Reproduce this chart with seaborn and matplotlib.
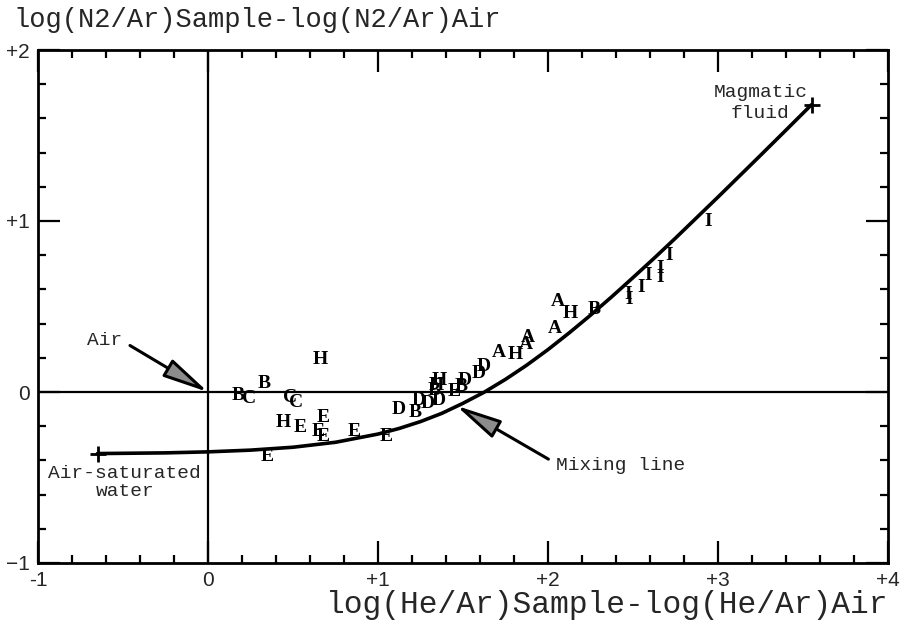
import matplotlib
matplotlib.use("Agg")
import matplotlib.pyplot as plt
from matplotlib.ticker import MultipleLocator, FixedLocator
import pandas as pd
import seaborn as sns

# mixing line between air-saturated water and magmatic fluid
mix_x = [-0.65, -0.25, 0.0, 0.25, 0.5, 0.75, 1.0, 1.125, 1.25, 1.375, 1.5, 1.625, 1.75, 1.875,
         2.0, 2.125, 2.25, 2.375, 2.5, 2.625, 2.75, 2.875, 3.0, 3.125, 3.25, 3.375, 3.55]
mix_y = [-0.36, -0.356, -0.35, -0.34, -0.323, -0.294, -0.246, -0.213, -0.173, -0.125, -0.066,
         -0.001, 0.074, 0.157, 0.248, 0.346, 0.449, 0.557, 0.669, 0.783, 0.90, 1.02, 1.14,
         1.262, 1.384, 1.507, 1.68]

end_x = [-0.65, 3.55]
end_y = [-0.36, 1.68]

# sample points, labelled by letter
pt_label = ["A", "A", "A", "A", "A",
            "H", "H", "H", "H", "H", "H",
            "B", "B", "B", "B", "B", "B",
            "C", "C", "C",
            "D", "D", "D", "D", "D", "D", "D",
            "E", "E", "E", "E", "E", "E", "E", "E",
            "I", "I", "I", "I", "I", "I", "I", "I"]
pt_x = [2.06, 2.04, 1.88, 1.87, 1.71,
        2.13, 1.81, 0.66, 0.44, 1.36, 1.34,
        2.27, 0.33, 0.18, 1.33, 1.22, 1.49,
        0.24, 0.48, 0.52,
        1.62, 1.59, 1.51, 1.24, 1.29, 1.36, 1.12,
        1.45, 0.54, 0.68, 0.65, 0.68, 0.86, 1.05, 0.35,
        2.47, 2.48, 2.55, 2.59, 2.66, 2.66, 2.71, 2.94]
pt_y = [0.53, 0.37, 0.32, 0.28, 0.23,
        0.46, 0.22, 0.19, -0.18, 0.07, 0.04,
        0.48, 0.05, -0.02, 0.01, -0.12, 0.03,
        -0.04, -0.03, -0.06,
        0.15, 0.11, 0.07, -0.05, -0.07, -0.05, -0.10,
        0.00, -0.21, -0.15, -0.23, -0.26, -0.23, -0.26, -0.38,
        0.57, 0.54, 0.61, 0.68, 0.72, 0.67, 0.80, 1.00]

x_ticks = [-1, 0, 1, 2, 3, 4]
x_ticklabels = ["-1", "0", "+1", "+2", "+3", "+4"]
y_ticks = [-1, 0, 1, 2]
y_ticklabels = ["\u22121", "0", "+1", "+2"]

sns.set_style("ticks")
mono = ["Liberation Mono", "DejaVu Sans Mono"]
narrow = ["Liberation Sans Narrow", "Liberation Sans", "DejaVu Sans"]
serif = ["Liberation Serif", "DejaVu Serif"]

fig = plt.figure(figsize=(9.06, 6.28), dpi=100)
ax = fig.add_axes([38 / 906, 1 - 563 / 628, 850 / 906, 513 / 628])

mix = pd.DataFrame({"x": mix_x, "y": mix_y})
sns.lineplot(data=mix, x="x", y="y", sort=False, color="black", lw=2.6, ax=ax)
sns.scatterplot(x=end_x, y=end_y, marker="+", s=120, color="black", linewidth=2, ax=ax, zorder=5)

ax.axhline(0, color="black", lw=1.6, zorder=1)
ax.axvline(0, color="black", lw=1.6, zorder=1)

for lab, x, y in zip(pt_label, pt_x, pt_y):
    ax.text(x, y, lab, ha="center", va="center", fontsize=14, fontweight="bold",
            family=serif, color="black", zorder=4)


def arrow(relpos):
    return dict(arrowstyle="-|>,head_length=1.4,head_width=0.3", fc="#8c8c8c", ec="black",
                lw=2.2, mutation_scale=20, shrinkA=4, shrinkB=0, relpos=relpos)


ax.annotate("Air", xy=(0, 0), xytext=(-0.61, 0.30), ha="center", va="center",
            fontsize=14, family=mono, arrowprops=arrow((1.0, 0.5)))
ax.annotate("Mixing line", xy=(1.46, -0.08), xytext=(2.05, -0.43), ha="left", va="center",
            fontsize=14, family=mono, arrowprops=arrow((0.0, 0.6)))
ax.text(-0.49, -0.53, "Air-saturated\nwater", ha="center", va="center",
        fontsize=14, family=mono, linespacing=1.1)
ax.text(3.25, 1.69, "Magmatic\nfluid", ha="center", va="center",
        fontsize=14, family=mono, linespacing=1.3)

ax.set_xlim(-1, 4)
ax.set_ylim(-1, 2)
ax.xaxis.set_major_locator(FixedLocator(x_ticks))
ax.yaxis.set_major_locator(FixedLocator(y_ticks))
ax.xaxis.set_minor_locator(MultipleLocator(0.2))
ax.yaxis.set_minor_locator(MultipleLocator(0.2))
ax.set_xticklabels(x_ticklabels, family=narrow, fontsize=15)
ax.set_yticklabels(y_ticklabels, family=narrow, fontsize=15)
ax.tick_params(which="both", direction="in", top=True, right=True, width=1.6, color="black")
ax.tick_params(which="major", length=16, pad=6)
ax.tick_params(which="minor", length=6)
ax.set_xlabel("")
ax.set_ylabel("")
for s in ax.spines.values():
    s.set_visible(True)
    s.set_linewidth(2)
    s.set_color("black")

fig.text(13 / 906, 1 - 20 / 628, "log(N2/Ar)Sample-log(N2/Ar)Air", ha="left", va="center",
         fontsize=19.5, family=mono)
fig.text(888 / 906, 1 - 605 / 628, "log(He/Ar)Sample-log(He/Ar)Air", ha="right", va="center",
         fontsize=22.5, family=mono)

fig.savefig("out.png", dpi=100)
